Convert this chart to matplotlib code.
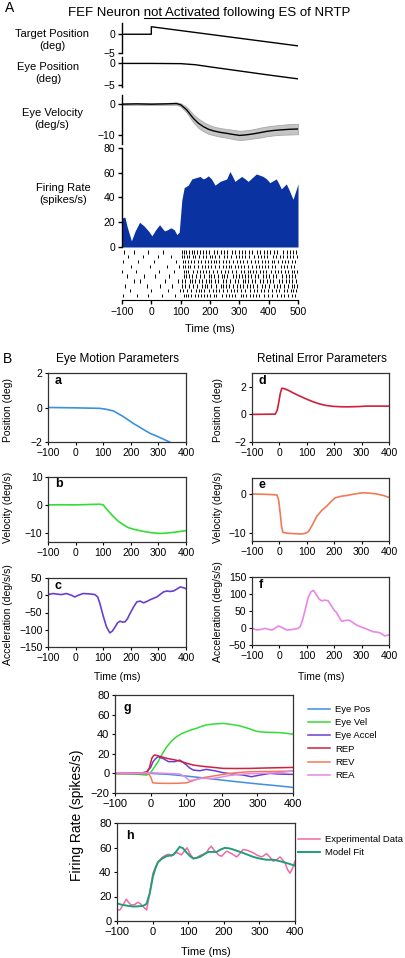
import numpy as np
import matplotlib.pyplot as plt
from matplotlib.lines import Line2D

plt.rcParams['font.family'] = ['Liberation Sans', 'DejaVu Sans']

# ---------------- Panel A data ----------------
t_target = [-100, 0, 0, 500]
target_pos = [0, 0, 2, -3.1]

t_eyepos_a = [-100, 0, 100, 150, 200, 300, 400, 500]
eye_pos_a = [0, 0, -0.05, -0.3, -0.8, -1.75, -2.7, -3.6]

t_vel_a = [-100, -50, 0, 50, 86, 100, 120, 143, 160, 177, 195, 211, 235, 256, 280, 301,
           325, 347, 370, 392, 415, 438, 470, 500]
eye_vel_a = [0, 0.1, 0, 0.1, 0.2, -0.2, -1.8, -4.6, -6.2, -7.3, -8.2, -8.7, -9.2, -9.5, -9.9, -10.2,
             -10.0, -9.7, -9.3, -8.9, -8.6, -8.4, -8.2, -8.1]
vel_sd_a = [0.3, 0.3, 0.3, 0.3, 0.4, 0.5, 0.9, 1.3, 1.5, 1.5, 1.5, 1.4, 1.4, 1.4, 1.5, 1.5,
            1.5, 1.5, 1.6, 1.6, 1.6, 1.6, 1.7, 1.7]

t_fr = [-100, -90, -82, -68, -55, -40, -25, -10, 2, 15, 28, 38, 45, 56, 66, 78, 87, 95, 104, 112,
        126, 138, 152, 166, 177, 186, 194, 205, 217, 226, 234, 246, 257, 268, 277, 285, 296, 308, 320, 330,
        344, 358, 370, 381, 393, 404, 415, 426, 435, 443, 452, 460, 470, 483, 492, 500]
fr = [23.6, 24, 16, 5, 13, 20, 17, 13, 9, 14, 18, 15, 13, 14, 15.5, 14, 10, 12, 38, 48,
      50, 55, 56, 57, 55, 56, 57.5, 55, 50, 51.5, 53, 54, 55, 61, 57, 53, 55, 57, 55, 53,
      56, 59, 58, 57, 55, 52, 53.5, 55, 51, 47, 49, 51, 46, 38.5, 45, 51]

spikes = [
    [-93, -58, -12, 41, 104, 111, 118, 128, 137, 146, 155, 165, 176, 187, 198, 214, 225, 236, 248, 259, 275, 286, 298, 310,
     321, 333, 344, 360, 372, 383, 395, 405, 417, 428, 449, 461, 472, 483, 493],
    [-78, -30, 22, 66, 106, 112, 121, 129, 141, 150, 163, 175, 188, 199, 207, 218, 229, 248, 259, 270, 287, 298, 309,
     321, 333, 351, 362, 374, 385, 396, 414, 426, 437, 449, 461, 472, 484, 495],
    [-97, -45, 8, 84, 107, 116, 124, 135, 146, 158, 170, 183, 193, 203, 213, 221, 232, 243, 255, 266, 280, 291, 302, 314,
     326, 339, 352, 365, 377, 388, 399, 410, 419, 433, 446, 457, 467, 478, 490],
    [-68, -5, 53, 95, 108, 115, 124, 133, 147, 159, 172, 182, 193, 205, 217, 232, 244, 255, 264, 273, 284, 295, 305,
     315, 330, 343, 357, 367, 378, 389, 399, 410, 421, 441, 452, 463, 476, 487],
    [-99, -52, 27, 78, 110, 117, 126, 141, 154, 167, 176, 185, 197, 210, 224, 238, 251, 262, 276, 289, 306, 317, 328,
     338, 347, 358, 369, 380, 392, 408, 420, 432, 443, 455, 466, 478, 487, 496],
    [-84, -25, 14, 60, 113, 119, 129, 138, 152, 166, 179, 196, 205, 213, 227, 240, 249, 258, 277, 289, 300, 309, 318,
     330, 341, 352, 362, 380, 391, 402, 414, 426, 444, 458, 470, 480, 489],
    [-60, -38, 45, 90, 103, 115, 131, 140, 148, 161, 174, 187, 196, 205, 216, 226, 245, 256, 268, 284, 297, 311, 320,
     329, 342, 354, 371, 382, 393, 405, 416, 434, 446, 458, 470, 481, 492],
    [-90, -15, 31, 72, 106, 114, 127, 142, 156, 174, 183, 191, 205, 219, 237, 245, 253, 266, 279, 293, 302, 313, 325,
     337, 348, 359, 376, 388, 400, 418, 428, 439, 452, 466, 478, 488, 497],
    [-73, -2, 56, 99, 109, 121, 134, 153, 161, 168, 181, 195, 209, 220, 231, 244, 257, 271, 282, 291, 305, 320, 335,
     349, 361, 373, 385, 397, 413, 425, 436, 451, 463, 475, 484, 492],
    [-98, -48, -10, 38, 80, 110, 117, 126, 136, 148, 160, 170, 180, 191, 201, 212, 222, 242, 253, 264, 275, 286, 304,
     314, 323, 335, 346, 357, 367, 385, 398, 411, 430, 441, 453, 466, 480, 490, 499],
]

# ---------------- Panel B data ----------------
t_a = [-100, 0, 88, 110, 137, 170, 209, 240, 270, 300, 340, 400]
eye_pos_b = [0, -0.02, -0.05, -0.1, -0.2, -0.5, -0.92, -1.22, -1.5, -1.7, -2.0, -2.55]

t_b = [-100, -50, 0, 50, 88, 100, 115, 137, 155, 173, 190, 209, 240, 270, 300, 319, 350, 380, 400]
eye_vel_b = [0, 0.05, 0, 0.15, 0.25, 0, -1.8, -4.2, -5.9, -7.1, -8.1, -8.7, -9.4, -9.9, -10.2, -10.2, -9.9, -9.5, -9.2]

t_c = [-100, -82, -65, -51, -33, -15, -3, 10, 27, 50, 70, 80, 88, 100, 112, 124, 133, 143, 152, 161,
       170, 179, 188, 197, 210, 222, 234, 246, 258, 270, 282, 294, 306, 319, 331, 343, 355, 367, 379, 390, 400]
eye_acc_b = [2, 5, 3, 2, 5, 0, -5, 0, 5, 4, 2, -5, -24, -60, -92, -109, -104, -92, -80, -75,
             -78, -77, -68, -53, -34, -19, -17, -22, -18, -13, -9, -5, 2, 10, 12, 11, 12.5, 18, 24, 22, 19]

t_d = [-100, -15, -8, -3, 3, 9, 20, 35, 51, 75, 100, 125, 148, 170, 197, 230, 257, 290, 318, 360, 400]
rep_b = [0, 0.02, 0.3, 0.8, 1.5, 1.9, 1.85, 1.72, 1.55, 1.32, 1.1, 0.9, 0.75, 0.65, 0.58, 0.55, 0.55, 0.57, 0.6, 0.6, 0.6]

t_e = [-100, -50, -9, -3, 3, 8, 13, 30, 51, 82, 95, 106, 120, 136, 155, 172, 188, 203, 225, 245,
       275, 305, 330, 354, 380, 400]
rev_b = [0, -0.1, -0.25, -1.5, -5, -8.5, -9.9, -10.1, -10.2, -10.3, -10.1, -9.7, -8.0, -5.8, -4.2, -3.2, -2.0, -1.0, -0.6, -0.4,
         0.0, 0.3, 0.2, 0.0, -0.4, -0.9]

t_f = [-100, -82, -67, -52, -40, -27, -15, -3, 12, 27, 42, 57, 68, 76, 85, 94, 105, 115, 124, 135,
       145, 154, 166, 178, 190, 200, 209, 218, 227, 240, 250, 257, 270, 281, 295, 312, 327, 342, 355, 366,
       375, 384, 392, 400]
rea_b = [-1, -6, -4, -1, -4, -6, 0, 6, 0, -6, -5, -3, -1, 4, 25, 53, 90, 106, 111, 98,
         85, 80, 82, 80, 65, 52, 45, 32, 20, 22, 23, 22, 15, 9, 4, -1, -6, -11, -12, -14,
         -18, -23, -22, -20]

# panel g: contributions to firing rate
g_t_pos = [-100, 0, 50, 100, 150, 200, 250, 300, 350, 400]
g_pos = [0, 0, -1, -2.7, -4.7, -6.8, -8.8, -10.7, -12.4, -14.3]
g_t_vel = [-100, -41, -11, 0, 10, 21, 33, 45, 59, 73, 87, 101, 115, 129, 143, 157, 180, 204, 227, 250,
           274, 297, 311, 325, 345, 362, 380, 400]
g_vel = [0, -0.7, -1.7, 0.7, 6, 12, 20, 27, 33, 37.5, 40.5, 42.7, 44.5, 46, 48, 49.5, 50.5, 51, 50, 48.5,
         46, 43, 42.3, 42, 41.8, 41.6, 41, 40]
g_t_acc = [-100, -30, -11, 0, 7, 14, 21, 36, 50, 68, 82, 92, 101, 110, 120, 138, 157, 180, 204, 232,
           260, 283, 307, 335, 363, 400]
g_acc = [0, 0, 1.7, 6, 12, 15, 17, 15, 12, 12, 13.6, 11, 8.5, 5.5, 3.4, 2.7, 4.1, 2.7, 0.7, -0.7,
         -1.7, -3.4, -1.7, 0, -0.7, -1]
g_t_rep = [-100, -11, -3, 3, 8, 12, 25, 45, 65, 82, 100, 120, 140, 157, 180, 204, 240, 279, 320, 360, 400]
g_rep = [0, 0, 6, 15, 18, 18.8, 17.5, 15.4, 14, 12.6, 10.5, 8.5, 7.5, 6.8, 6, 5.1, 5.0, 5.1, 5.5, 5.8, 6.1]
g_t_rev = [-100, -11, -5, 0, 6, 20, 45, 75, 101, 115, 129, 150, 176, 200, 222, 250, 279, 310, 344, 370, 400]
g_rev = [0, 0, -1, -3.4, -9.6, -10, -10.2, -10.1, -9.6, -8, -6.1, -4.2, -2.7, -1.2, 0, 1, 1.7, 1.9, 2, 2.2, 2.4]
g_t_rea = [-100, -50, 0, 45, 82, 95, 110, 125, 138, 157, 176, 195, 213, 236, 260, 283, 307, 335, 363, 385, 400]
g_rea = [0.7, 0, 0.7, 0, -0.7, -3, -7.5, -6.5, -5.1, -5.0, -5.1, -4, -2.7, -1.5, -0.7, -0.3, 0, 0.3, 0.7, 1.8, 2.7]

# panel h: data vs model
h_t_model = [-100, -90, -74, -55, -40, -27, -17, -8, 1, 8, 15, 27, 39, 50, 58, 67, 76, 85, 95, 105,
             114, 123, 133, 145, 156, 168, 180, 192, 203, 215, 226, 240, 254, 268, 283, 300, 320, 340, 358, 380, 400]
h_model = [14.5, 13.5, 12.6, 11.8, 12, 12.3, 14, 22.7, 36.4, 43, 48, 51, 52.9, 53.5, 54, 57, 60.5, 59.5, 56, 53,
           51, 51.5, 52.3, 54.5, 56.4, 56.4, 56.4, 58.5, 59.7, 59.3, 58.4, 57, 55.6, 54, 52.3, 51, 50, 50, 48.8, 47, 45.2]
h_t_exp = [-100, -92, -83, -74, -67, -60, -50, -41, -34, -27, -17, -8, 1, 8, 15, 27, 39, 46, 53, 60,
           67, 74, 81, 89, 97, 105, 114, 123, 133, 142, 151, 158, 165, 172, 180, 187, 194, 201, 208, 222,
           236, 245, 254, 268, 283, 295, 306, 313, 320, 330, 339, 348, 358, 365, 372, 379, 386, 393, 400]
h_exp = [9, 9, 13, 17.8, 15, 13, 13.5, 15.3, 14, 11.8, 9, 22.7, 39, 44, 48, 52, 54, 54.5, 53, 54.5,
         56, 55, 54, 57, 59.7, 55, 51, 51.5, 53.4, 54.5, 55.6, 59, 61, 58, 55.6, 53.5, 52.9, 55, 57, 55,
         52.3, 55, 58.4, 57.5, 55.6, 53.5, 52.3, 53.5, 55, 52, 48.8, 50, 52.3, 50, 47.4, 42, 39, 43, 48.8]

# colours
c_pos = '#3d8fe0'
c_vel = '#33dd33'
c_acc = '#6a3fd0'
c_rep = '#d0203c'
c_rev = '#f07a55'
c_rea = '#ea86e6'
c_exp = '#ec6aa8'
c_fit = '#1f9e78'

W, H = 406, 958
fig = plt.figure(figsize=(W / 100, H / 100), dpi=100)


def box(l, t, r, b):
    return fig.add_axes([l / W, 1 - b / H, (r - l) / W, (b - t) / H])


def ftext(x, y, s, **kw):
    kw.setdefault('ha', 'center')
    kw.setdefault('va', 'center')
    return fig.text(x / W, 1 - y / H, s, **kw)


def a_style(ax, ylim, yticks):
    for s in ['top', 'right', 'bottom']:
        ax.spines[s].set_visible(False)
    ax.spines['left'].set_linewidth(1.0)
    ax.set_xlim(-100, 500)
    ax.set_ylim(*ylim)
    ax.set_xticks([])
    ax.set_yticks(yticks)
    ax.tick_params(axis='y', labelsize=7.5, length=3, width=1, pad=2)
    ax.patch.set_alpha(0)


# ---------------- Panel A ----------------
ax1 = box(122, 23, 298, 53)
a_style(ax1, (-5, 3), [0, -5])
ax1.plot(t_target, target_pos, color='black', lw=1)

ax2 = box(122, 57, 298, 87)
a_style(ax2, (-5.5, 1.5), [0, -5])
ax2.plot(t_eyepos_a, eye_pos_a, color='black', lw=1)

ax3 = box(122, 95, 298, 144)
a_style(ax3, (-13, 3), [0, -10])
lo = np.array(eye_vel_a) - np.array(vel_sd_a)
hi = np.array(eye_vel_a) + np.array(vel_sd_a)
ax3.fill_between(t_vel_a, lo, hi, color='#c4c4c4', edgecolor='#a8a8a8', lw=0.6)
ax3.plot(t_vel_a, eye_vel_a, color='black', lw=1)

ax4 = box(122, 148, 298, 247)
a_style(ax4, (0, 80), [0, 20, 40, 60, 80])
ax4.fill_between(t_fr, fr, 0, color='#0a32a0', lw=0)

ax5 = box(122, 249, 298, 300)
for s in ['top', 'right', 'left']:
    ax5.spines[s].set_visible(False)
ax5.eventplot(spikes[::-1], lineoffsets=list(range(len(spikes))), linelengths=0.7,
              colors='black', linewidths=0.7)
ax5.set_xlim(-100, 500)
ax5.set_ylim(-0.9, 9.6)
ax5.set_yticks([])
ax5.set_xticks([-100, 0, 100, 200, 300, 400, 500])
ax5.tick_params(axis='x', labelsize=7.5, length=3, width=1, pad=2)
ax5.patch.set_alpha(0)
ftext(210, 329, 'Time (ms)', fontsize=8)

ftext(52, 40, 'Target Position\n(deg)', fontsize=8)
ftext(48, 73, 'Eye Position\n(deg)', fontsize=8)
ftext(52, 119, 'Eye Velocity\n(deg/s)', fontsize=8)
ftext(63, 194, 'Firing Rate\n(spikes/s)', fontsize=8)

ftext(10, 8, 'A', fontsize=10)
title_fs = 9.5
title = ftext(209, 13, 'FEF Neuron not Activated following ES of NRTP', fontsize=title_fs)

# underline "not Activated"
renderer = fig.canvas.get_renderer()


def tw(s):
    t = fig.text(0, 0, s, fontsize=title_fs)
    w = t.get_window_extent(renderer).width
    t.remove()
    return w


bb = title.get_window_extent(renderer)
ux0 = bb.x0 + tw('FEF Neuron n') - tw('n')
ux1 = bb.x0 + tw('FEF Neuron not Activated')
uy = bb.y0 + 1.2
fig.add_artist(Line2D([ux0 / W, ux1 / W], [uy / H, uy / H], transform=fig.transFigure,
                      color='black', lw=0.8))

# ---------------- Panel B ----------------
ftext(8, 359, 'B', fontsize=10)
ftext(118, 359, 'Eye Motion Parameters', fontsize=8.5)
ftext(322, 359, 'Retinal Error Parameters', fontsize=8.5)


def b_style(ax, ylim, yticks, letter, fs=7.5):
    for s in ax.spines.values():
        s.set_linewidth(0.9)
        s.set_color('#333333')
    ax.set_xlim(-100, 400)
    ax.set_ylim(*ylim)
    ax.set_xticks([-100, 0, 100, 200, 300, 400])
    ax.set_yticks(yticks)
    ax.tick_params(labelsize=fs, length=2, width=0.8, pad=2)
    ax.text(0.05, 0.84, letter, transform=ax.transAxes, fontsize=9, fontweight='bold')


axa = box(48, 373, 186, 442)
b_style(axa, (-2, 2), [-2, 0, 2], 'a')
axa.plot(t_a, eye_pos_b, color=c_pos, lw=1.2)

axd = box(252, 373, 389, 442)
b_style(axd, (-2, 3), [-2, 0, 2], 'd')
axd.plot(t_d, rep_b, color=c_rep, lw=1.2)

axb = box(48, 477, 186, 542)
b_style(axb, (-13.3, 10), [-10, 0, 10], 'b')
axb.plot(t_b, eye_vel_b, color=c_vel, lw=1.2)

axe = box(252, 478, 389, 541)
b_style(axe, (-12.1, 4.1), [-10, 0], 'e')
axe.plot(t_e, rev_b, color=c_rev, lw=1.2)

axc = box(48, 578, 186, 647)
b_style(axc, (-150, 50), [-150, -100, -50, 0, 50], 'c')
axc.plot(t_c, eye_acc_b, color=c_acc, lw=1.2)

axf = box(252, 577, 389, 645)
b_style(axf, (-50, 150), [-50, 0, 50, 100, 150], 'f')
axf.plot(t_f, rea_b, color=c_rea, lw=1.2)

ftext(8, 410, 'Position (deg)', rotation=90, fontsize=7.5)
ftext(218, 410, 'Position (deg)', rotation=90, fontsize=7.5)
ftext(8, 507, 'Velocity (deg/s)', rotation=90, fontsize=7.5)
ftext(218, 507, 'Velocity (deg/s)', rotation=90, fontsize=7.5)
ftext(8, 615, 'Acceleration (deg/s/s)', rotation=90, fontsize=7.5)
ftext(218, 612, 'Acceleration (deg/s/s)', rotation=90, fontsize=7.5)
ftext(117, 677, 'Time (ms)', fontsize=7.5)
ftext(321, 677, 'Time (ms)', fontsize=7.5)

# panel g
axg = box(115, 695, 293, 793)
b_style(axg, (-20, 80), [-20, 0, 20, 40, 60, 80], 'g', fs=8)
lg = []
lg += axg.plot(g_t_pos, g_pos, color=c_pos, lw=1.1, label='Eye Pos')
lg += axg.plot(g_t_vel, g_vel, color=c_vel, lw=1.1, label='Eye Vel')
lg += axg.plot(g_t_acc, g_acc, color=c_acc, lw=1.1, label='Eye Accel')
lg += axg.plot(g_t_rep, g_rep, color=c_rep, lw=1.1, label='REP')
lg += axg.plot(g_t_rev, g_rev, color=c_rev, lw=1.1, label='REV')
lg += axg.plot(g_t_rea, g_rea, color=c_rea, lw=1.1, label='REA')
axg.legend(handles=lg, loc='upper left', bbox_to_anchor=(308 / W, 1 - 705 / H),
           bbox_transform=fig.transFigure, frameon=False, fontsize=6.8,
           handlelength=2.3, handletextpad=0.6, labelspacing=0.45, borderpad=0, borderaxespad=0)

# panel h
axh = box(117, 823, 295, 921)
b_style(axh, (0, 80), [0, 20, 40, 60, 80], 'h', fs=8)
lh = []
lh += axh.plot(h_t_exp, h_exp, color=c_exp, lw=1.1, label='Experimental Data')
lh += axh.plot(h_t_model, h_model, color=c_fit, lw=1.4, label='Model Fit')
axh.legend(handles=lh, loc='upper left', bbox_to_anchor=(298 / W, 1 - 835 / H),
           bbox_transform=fig.transFigure, frameon=False, fontsize=6.8,
           handlelength=2.3, handletextpad=0.6, labelspacing=0.45, borderpad=0, borderaxespad=0)
ftext(206, 952, 'Time (ms)', fontsize=8)
ftext(77, 815, 'Firing Rate (spikes/s)', rotation=90, fontsize=10)

fig.savefig('out.png', dpi=100)
